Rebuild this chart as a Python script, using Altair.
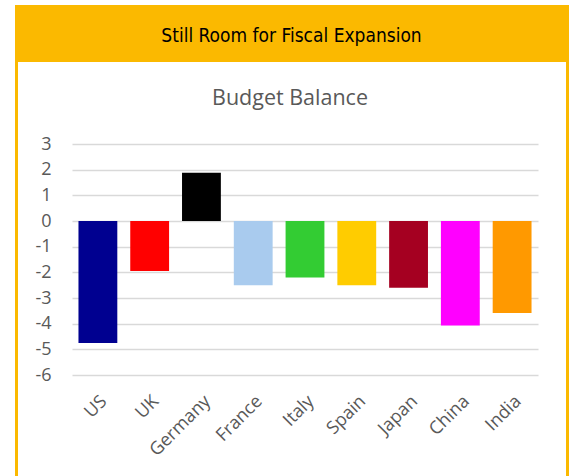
import altair as alt
import pandas as pd

categories = ["US", "UK", "Germany", "France", "Italy", "Spain", "Japan", "China", "India"]
values = [-4.75, -1.95, 1.88, -2.5, -2.2, -2.5, -2.6, -4.07, -3.58]
colors = ["#000090", "#FF0000", "#000000", "#A9CBEE", "#33CC33", "#FFCC00", "#A50021", "#FF00FF", "#FF9900"]
y_ticks = [-6, -5, -4, -3, -2, -1, 0, 1, 2, 3]
banner_title = "Still Room for Fiscal Expansion"
chart_title = "Budget Balance"

df = pd.DataFrame({"country": categories, "value": values, "color": colors})

GOLD = "#FBB900"
W, H = 466, 231

bars = alt.Chart(df).mark_bar(opacity=1).encode(
    x=alt.X("country:N", sort=categories,
            scale=alt.Scale(paddingInner=0.25, paddingOuter=0.125),
            axis=alt.Axis(title=None, labelAngle=-45, labelAlign="right", labelBaseline="top",
                          labelPadding=17, labelFontSize=18, labelColor="#595959",
                          labelFont="Open Sans", domain=False, ticks=False, grid=False)),
    y=alt.Y("value:Q", scale=alt.Scale(domain=[-6, 3], nice=False, zero=True),
            axis=alt.Axis(title=None, values=y_ticks, labelFontSize=18, labelColor="#595959",
                          labelFont="Open Sans", labelPadding=21, domain=False, ticks=False,
                          labelExpr="'' + datum.value",
                          grid=True, gridColor="#D9D9D9", gridWidth=1.5)),
    y2=alt.datum(0),
    color=alt.Color("color:N", scale=None),
)

frame_src = alt.Chart(pd.DataFrame({"k": [0]}))

banner = frame_src.mark_rect(color=GOLD).encode(
    x=alt.value(-57), x2=alt.value(497), y=alt.value(-139), y2=alt.value(-82))
left_line = frame_src.mark_rect(color=GOLD).encode(
    x=alt.value(-57), x2=alt.value(-54), y=alt.value(-84), y2=alt.value(H + 101))
right_line = frame_src.mark_rect(color=GOLD).encode(
    x=alt.value(494), x2=alt.value(497), y=alt.value(-84), y2=alt.value(H + 101))

banner_text = frame_src.mark_text(font="DejaVu Sans Condensed, Roboto, sans-serif", fontSize=19,
                                  color="#000000", fontWeight=500,
                                  align="center", baseline="alphabetic").encode(
    x=alt.value(219.5), y=alt.value(-102), text=alt.value(banner_title))

title_text = frame_src.mark_text(font="Open Sans", fontSize=21.5, color="#595959",
                                 align="center", baseline="alphabetic").encode(
    x=alt.value(218), y=alt.value(-39), text=alt.value(chart_title))

chart = alt.layer(bars, banner, left_line, right_line, banner_text, title_text).properties(
    width=W, height=H,
    autosize=alt.AutoSizeParams(type="none"),
    padding={"left": 72, "top": 144, "right": 35, "bottom": 101},
    background="white",
).configure_view(stroke=None)

chart.save("out.html", embed_options={"renderer": "svg", "actions": False})
